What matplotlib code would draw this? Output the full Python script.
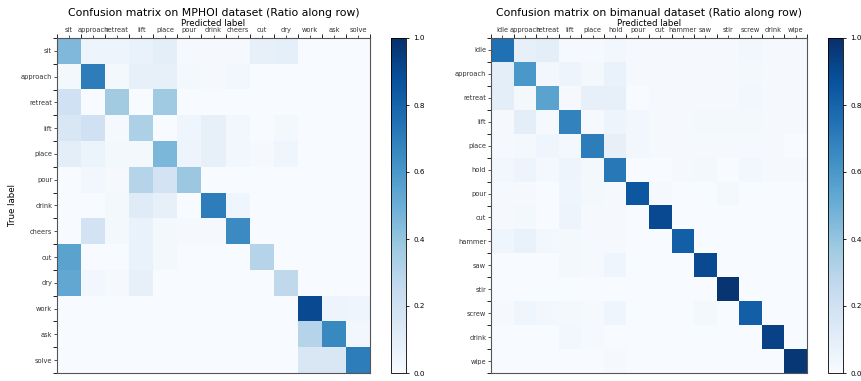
import numpy as np
import matplotlib.pyplot as plt

mphoi_labels = ["sit", "approach", "retreat", "lift", "place", "pour", "drink",
                "cheers", "cut", "dry", "work", "ask", "solve"]
mphoi_cm = np.array([
    [0.45, 0.05, 0.05, 0.07, 0.10, 0.01, 0.01, 0.01, 0.08, 0.09, 0.00, 0.00, 0.00],
    [0.02, 0.70, 0.02, 0.08, 0.08, 0.02, 0.01, 0.03, 0.00, 0.00, 0.00, 0.00, 0.00],
    [0.20, 0.00, 0.36, 0.00, 0.37, 0.00, 0.00, 0.00, 0.00, 0.00, 0.00, 0.00, 0.00],
    [0.15, 0.20, 0.01, 0.33, 0.00, 0.04, 0.08, 0.03, 0.00, 0.02, 0.00, 0.00, 0.00],
    [0.10, 0.06, 0.02, 0.02, 0.46, 0.05, 0.08, 0.03, 0.01, 0.04, 0.00, 0.00, 0.00],
    [0.00, 0.03, 0.01, 0.30, 0.18, 0.38, 0.00, 0.00, 0.00, 0.00, 0.00, 0.00, 0.00],
    [0.00, 0.00, 0.02, 0.12, 0.08, 0.00, 0.70, 0.04, 0.00, 0.00, 0.00, 0.00, 0.00],
    [0.00, 0.18, 0.02, 0.07, 0.02, 0.01, 0.01, 0.65, 0.00, 0.00, 0.00, 0.00, 0.00],
    [0.55, 0.00, 0.00, 0.07, 0.02, 0.00, 0.00, 0.00, 0.30, 0.00, 0.00, 0.00, 0.00],
    [0.53, 0.03, 0.01, 0.08, 0.00, 0.00, 0.00, 0.00, 0.00, 0.27, 0.00, 0.00, 0.00],
    [0.00, 0.00, 0.00, 0.00, 0.00, 0.00, 0.00, 0.00, 0.00, 0.00, 0.90, 0.05, 0.04],
    [0.00, 0.00, 0.00, 0.00, 0.00, 0.00, 0.00, 0.00, 0.00, 0.00, 0.30, 0.66, 0.03],
    [0.00, 0.00, 0.00, 0.00, 0.00, 0.00, 0.00, 0.00, 0.00, 0.00, 0.15, 0.15, 0.70],
])

bimanual_labels = ["idle", "approach", "retreat", "lift", "place", "hold", "pour",
                   "cut", "hammer", "saw", "stir", "screw", "drink", "wipe"]
bimanual_cm = np.array([
    [0.75, 0.08, 0.10, 0.01, 0.01, 0.03, 0.01, 0.01, 0.01, 0.01, 0.01, 0.03, 0.01, 0.01],
    [0.10, 0.60, 0.03, 0.05, 0.02, 0.07, 0.01, 0.01, 0.01, 0.01, 0.01, 0.02, 0.01, 0.01],
    [0.10, 0.02, 0.55, 0.01, 0.08, 0.08, 0.00, 0.01, 0.01, 0.01, 0.01, 0.03, 0.01, 0.01],
    [0.01, 0.10, 0.01, 0.68, 0.01, 0.05, 0.03, 0.01, 0.01, 0.02, 0.02, 0.02, 0.01, 0.01],
    [0.01, 0.02, 0.04, 0.02, 0.70, 0.08, 0.03, 0.01, 0.01, 0.01, 0.01, 0.01, 0.01, 0.00],
    [0.03, 0.05, 0.02, 0.05, 0.02, 0.72, 0.00, 0.00, 0.01, 0.02, 0.00, 0.03, 0.01, 0.01],
    [0.01, 0.01, 0.00, 0.04, 0.02, 0.01, 0.85, 0.01, 0.00, 0.00, 0.02, 0.00, 0.00, 0.00],
    [0.01, 0.02, 0.00, 0.05, 0.01, 0.01, 0.00, 0.90, 0.00, 0.00, 0.00, 0.00, 0.00, 0.00],
    [0.04, 0.07, 0.03, 0.02, 0.01, 0.01, 0.00, 0.00, 0.82, 0.00, 0.00, 0.00, 0.00, 0.00],
    [0.00, 0.00, 0.00, 0.02, 0.01, 0.04, 0.00, 0.00, 0.00, 0.90, 0.00, 0.00, 0.00, 0.00],
    [0.00, 0.00, 0.00, 0.00, 0.00, 0.00, 0.00, 0.00, 0.00, 0.00, 0.98, 0.00, 0.00, 0.00],
    [0.01, 0.04, 0.03, 0.02, 0.01, 0.04, 0.00, 0.00, 0.00, 0.02, 0.00, 0.82, 0.00, 0.00],
    [0.00, 0.00, 0.00, 0.03, 0.01, 0.00, 0.00, 0.00, 0.00, 0.00, 0.00, 0.00, 0.93, 0.00],
    [0.00, 0.00, 0.00, 0.00, 0.00, 0.01, 0.00, 0.00, 0.00, 0.00, 0.00, 0.00, 0.00, 0.97],
])

W, H = 862, 381
fig = plt.figure(figsize=(W / 100, H / 100), dpi=100)


def box(x0, y0, x1, y1):
    return [x0 / W, 1 - y1 / H, (x1 - x0) / W, (y1 - y0) / H]


def draw(ax, cax, cm, labels, title, ylabel):
    n = len(labels)
    im = ax.imshow(cm, cmap="Blues", vmin=0, vmax=1, aspect="auto",
                   interpolation="nearest")
    ax.set_xticks(np.arange(n))
    ax.set_yticks(np.arange(n))
    ax.set_xticklabels(labels, fontsize=4.8)
    ax.set_yticklabels(labels, fontsize=4.8)
    ax.set_xticks(np.arange(n + 1) - 0.5, minor=True)
    ax.set_yticks(np.arange(n + 1) - 0.5, minor=True)
    ax.xaxis.tick_top()
    ax.xaxis.set_label_position("top")
    ax.tick_params(which="major", length=2, width=0.6, pad=1.5, colors="#333333")
    ax.tick_params(which="minor", length=3, width=0.6, top=True, bottom=False)
    ax.set_xlabel("Predicted label", fontsize=6.2, labelpad=1)
    if ylabel:
        ax.set_ylabel("True label", fontsize=6.2, labelpad=3)
    ax.set_title(title, fontsize=7.8, pad=2)
    for s in ax.spines.values():
        s.set_color("#555555")
        s.set_linewidth(0.8)
    cb = fig.colorbar(im, cax=cax, ticks=[0, 0.2, 0.4, 0.6, 0.8, 1.0])
    cb.ax.tick_params(labelsize=5.2, length=2, width=0.6)
    cb.outline.set_linewidth(0.6)


ax1 = fig.add_axes(box(57, 38, 370, 373))
cax1 = fig.add_axes(box(391, 38, 406, 373))
draw(ax1, cax1, mphoi_cm, mphoi_labels,
     "Confusion matrix on MPHOI dataset (Ratio along row)", True)

ax2 = fig.add_axes(box(491, 38, 807, 373))
cax2 = fig.add_axes(box(828, 38, 843, 373))
draw(ax2, cax2, bimanual_cm, bimanual_labels,
     "Confusion matrix on bimanual dataset (Ratio along row)", False)

fig.savefig("out.png", dpi=100)
